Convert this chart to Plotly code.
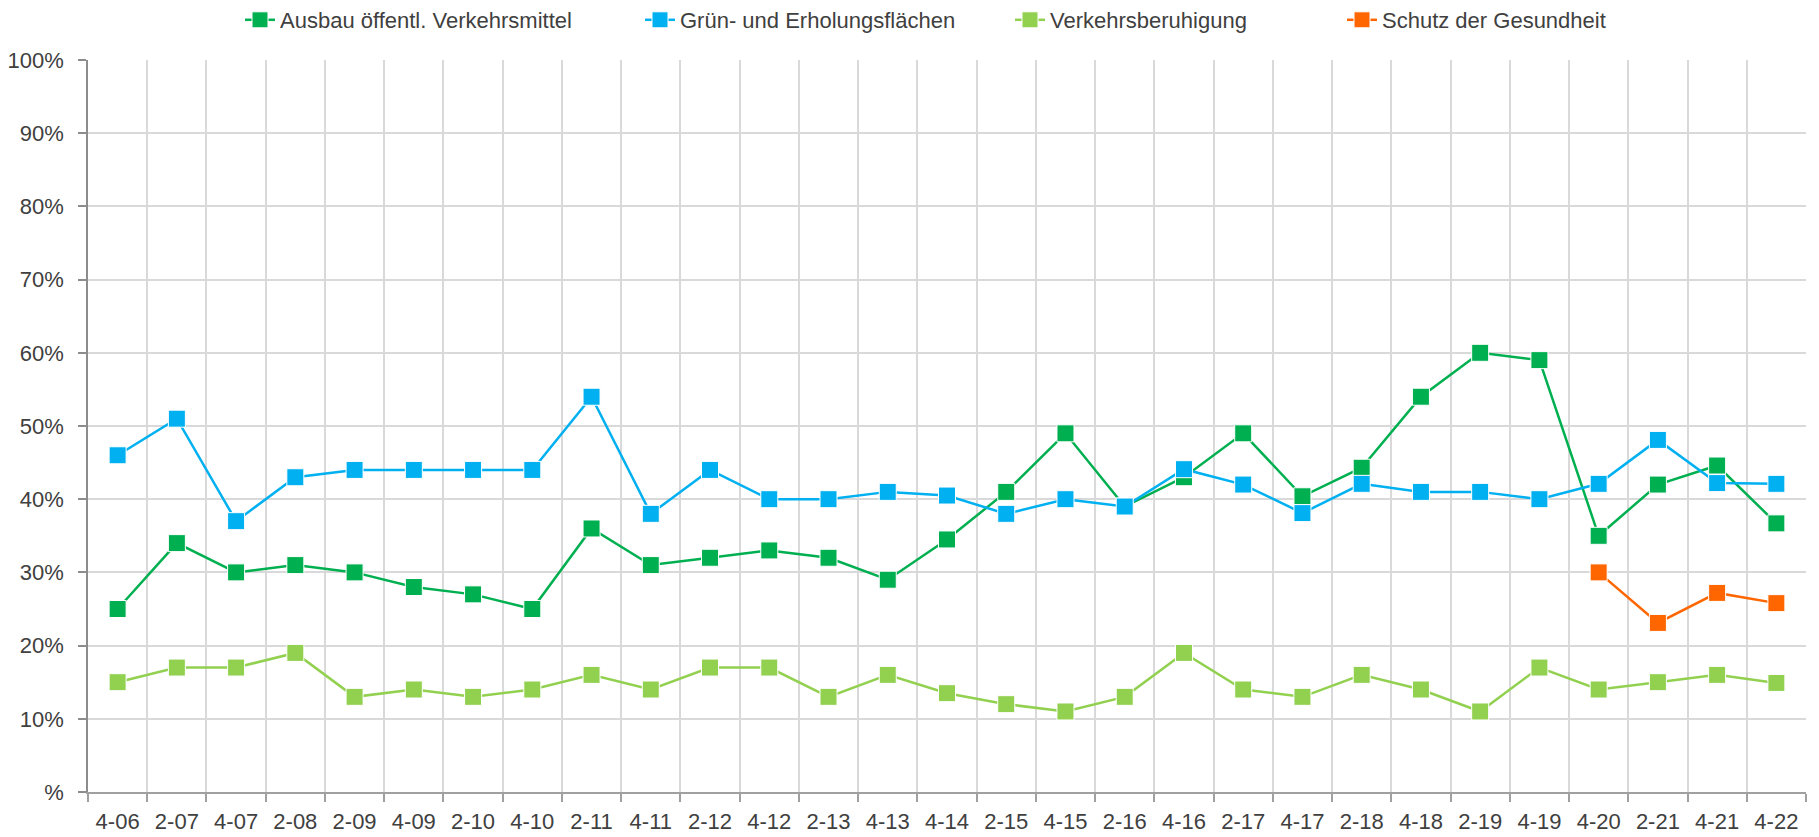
import plotly.graph_objects as go

categories = ["4-06", "2-07", "4-07", "2-08", "2-09", "4-09", "2-10", "4-10", "2-11", "4-11",
              "2-12", "4-12", "2-13", "4-13", "4-14", "2-15", "4-15", "2-16", "4-16", "2-17",
              "4-17", "2-18", "4-18", "2-19", "4-19", "4-20", "2-21", "4-21", "4-22"]

ausbau = [25, 34, 30, 31, 30, 28, 27, 25, 36, 31, 32, 33, 32, 29, 34.5, 41, 49, 39, 43, 49,
          40.4, 44.3, 54, 60, 59, 35, 42, 44.6, 36.7]
gruen = [46, 51, 37, 43, 44, 44, 44, 44, 54, 38, 44, 40, 40, 41, 40.5, 38, 40, 39, 44.1, 42,
         38.1, 42.1, 41, 41, 40, 42.1, 48.1, 42.2, 42.1]
beruhigung = [15, 17, 17, 19, 13, 14, 13, 14, 16, 14, 17, 17, 13, 16, 13.5, 12, 11, 13, 19, 14,
              13, 16, 14, 11, 17, 14, 15, 16, 14.9]
gesundheit = [None] * 25 + [30, 23.1, 27.2, 25.8]

series_names = ["Ausbau öffentl. Verkehrsmittel", "Grün- und Erholungsflächen",
                "Verkehrsberuhigung", "Schutz der Gesundheit"]
series_values = [ausbau, gruen, beruhigung, gesundheit]
colors = ["#00B050", "#00B0F0", "#92D050", "#FF6600"]

y_tickvals = [0, 10, 20, 30, 40, 50, 60, 70, 80, 90, 100]
y_ticktext = ["%", "10%", "20%", "30%", "40%", "50%", "60%", "70%", "80%", "90%", "100%"]

W, H = 1819, 837
FONT = "Liberation Sans, Arial, sans-serif"
FS = 22
TEXT = "#404040"

legend_x_px = [240, 640, 1010, 1342]
legend_names = ["legend", "legend2", "legend3", "legend4"]

fig = go.Figure()
for name, vals, col, lg in zip(series_names, series_values, colors, legend_names):
    fig.add_trace(go.Scatter(
        x=categories, y=vals, name=name, mode="lines+markers",
        line=dict(color=col, width=2.5),
        marker=dict(symbol="square", size=17, color=col, line=dict(color="white", width=1)),
        legend=lg, connectgaps=False,
    ))

legend_common = dict(orientation="h", xref="container", yref="container",
                     xanchor="left", yanchor="middle", bgcolor="rgba(0,0,0,0)",
                     font=dict(family=FONT, size=FS, color=TEXT))
layout_legends = {}
for lg, px in zip(legend_names, legend_x_px):
    layout_legends[lg] = dict(x=px / W, y=1 - 20 / H, **legend_common)

fig.update_layout(
    width=W, height=H,
    margin=dict(l=88, r=13, t=60, b=45, pad=0, autoexpand=False),
    paper_bgcolor="white", plot_bgcolor="white",
    font=dict(family=FONT, size=FS, color=TEXT),
    showlegend=True,
    xaxis=dict(
        type="category", range=[-0.5, len(categories) - 0.5],
        tickson="boundaries", showgrid=True, gridcolor="#d9d9d9", gridwidth=1.5,
        showline=True, linecolor="#a0a0a0", linewidth=2,
        ticks="outside", ticklen=8, tickcolor="#a0a0a0", tickwidth=1.5,
        tickfont=dict(family=FONT, size=FS, color=TEXT),
        zeroline=False, fixedrange=True, ticklabelstandoff=9,
    ),
    yaxis=dict(
        range=[0, 100], tickvals=y_tickvals, ticktext=y_ticktext,
        showgrid=True, gridcolor="#d9d9d9", gridwidth=1.5,
        showline=True, linecolor="#8c8c8c", linewidth=1.5,
        ticks="outside", ticklen=8, tickcolor="#8c8c8c", tickwidth=1.5,
        tickfont=dict(family=FONT, size=FS, color=TEXT),
        zeroline=False, ticklabelstandoff=10,
    ),
    **layout_legends,
)

fig.write_html("out.html", config={"displayModeBar": False},
               post_script="document.body.style.margin='0';document.body.style.overflow='hidden';")
